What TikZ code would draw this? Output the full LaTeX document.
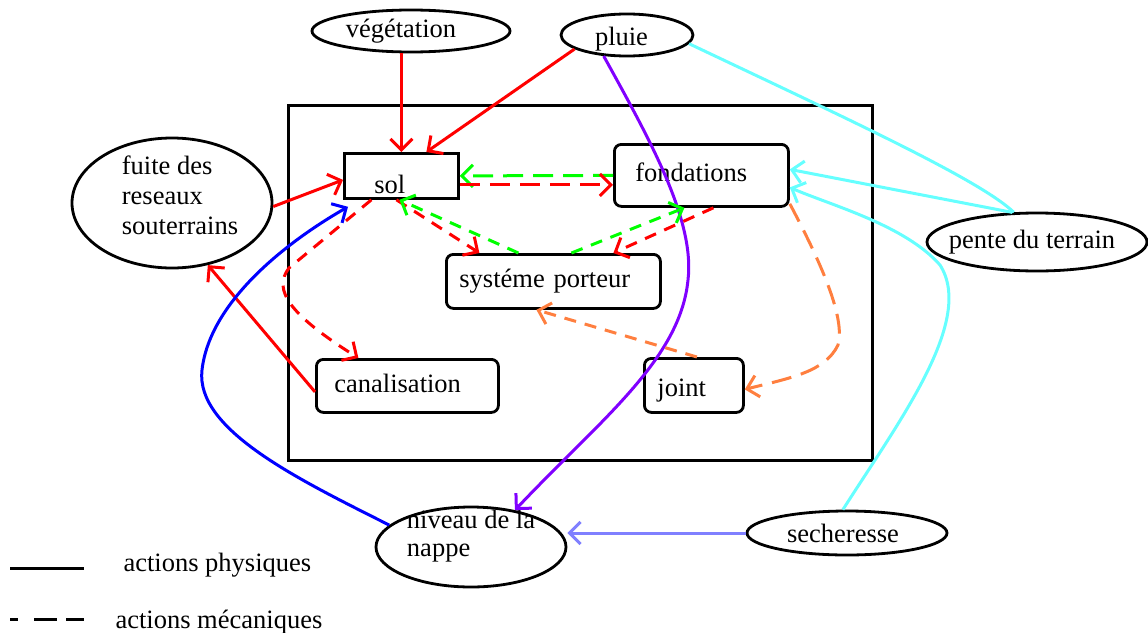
\documentclass[tikz,border=0pt]{standalone}
\usepackage{fontspec}
\setmainfont{Liberation Serif}
\usetikzlibrary{shapes.geometric,arrows.meta}

\definecolor{cRed}{RGB}{255,0,0}
\definecolor{cGreen}{RGB}{0,255,0}
\definecolor{cOrange}{RGB}{255,127,63}
\definecolor{cPurple}{RGB}{128,0,255}
\definecolor{cBlue}{RGB}{0,0,255}
\definecolor{cCyan}{RGB}{102,255,255}
\definecolor{cPeri}{RGB}{128,128,255}

\begin{document}
\begin{tikzpicture}[x=1pt,y=-1pt,
  every node/.style={font=\fontsize{26.5}{30}\selectfont},
  ell/.style={ellipse, draw, line width=2.8pt, inner sep=0pt},
  boxn/.style={draw, line width=2.8pt, rounded corners=7pt, anchor=north west,
               inner ysep=0pt, align=left},
  link/.style={line width=3pt},
  tip/.style={-{Straight Barb[length=11pt,width=22pt]}},
  phys/.style={link, tip},
  mech/.style={link, tip, dash pattern=on 12pt off 9pt},
  mechlong/.style={link, tip, dash pattern=on 20pt off 10pt}]

\useasboundingbox (0,0) rectangle (1148,632);

% frame around the building elements
\node[draw, line width=3pt, anchor=north west, minimum width=584pt,
      minimum height=355pt, inner sep=0pt] (frame) at (287,104) {};

% building elements
\node[boxn, sharp corners, inner xsep=30pt, text width=54pt,
      text height=40pt, text depth=5pt] (sol) at (343,152) {sol};
\node[boxn, inner xsep=21pt, text width=132pt,
      text height=37pt, text depth=25pt] (fond) at (613,143) {fondations};
\node[boxn, inner xsep=13pt, text width=188pt,
      text height=33pt, text depth=21pt] (sys) at (445,253) {systéme porteur};
\node[boxn, inner xsep=18pt, text width=146pt,
      text height=33pt, text depth=20pt] (canal) at (315,358) {canalisation};
\node[boxn, inner xsep=13pt, text width=73pt,
      text height=38pt, text depth=16pt] (joint) at (643,357) {joint};

% external factors
\node[ell, minimum width=198pt, minimum height=42pt] (veg) at (411,31)
  {végétation\hspace*{20pt}};
\node[ell, minimum width=132pt, minimum height=42pt,
      text height=22pt, text depth=2pt] (pluie) at (627,35) {pluie\hspace*{11pt}};
\node[ell, minimum width=200pt, minimum height=130pt, inner ysep=-2pt,
      align=left, text depth=16pt] (fuite) at (172,203)
  {\hspace*{16pt}fuite des\\\hspace*{16pt}reseaux\\\hspace*{16pt}souterrains};
\node[ell, minimum width=220pt, minimum height=58pt, inner xsep=-12pt]
  (pente) at (1037,242) {pente du terrain\hspace*{10pt}};
\node[ell, minimum width=190pt, minimum height=80pt, inner ysep=-10pt,
      align=left, font=\fontsize{26.5}{28}\selectfont, text depth=28pt]
  (niv) at (471,547) {niveau de la\\nappe};
\node[ell, minimum width=200pt, minimum height=44pt] (sech) at (847,533)
  {secheresse\hspace*{8pt}};

% physical actions
\draw[phys, cRed] (sol.north |- veg.south) -- (sol.north);
\draw[phys, cRed] (pluie.195) -- ([xshift=25pt]sol.north);
\draw[phys, cRed] (fuite.-2) -- ([yshift=-4pt]sol.west);
\draw[phys, cRed] ([yshift=-6pt]canal.west) -- (fuite.-60);
\draw[phys, cPurple] (pluie.222) .. controls (650,140) and (695,220) .. (688,280)
  .. controls (680,360) and (600,420) .. (niv.40);
\draw[phys, cBlue] (niv.165) .. controls (300,480) and (195,430) .. (202,370)
  .. controls (210,300) and (290,240) .. ([xshift=5pt,yshift=-7pt]sol.south west);
\draw[phys, cPeri] (sech.west) -- (sech.west -| niv.east);
\draw[phys, cCyan] (sech.100) .. controls (900,420) and (975,320) .. (940,265)
  .. controls (905,225) and (830,205) .. ([yshift=-12pt]fond.east);
\draw[phys, cCyan] (pente.130) -- ([yshift=6pt]fond.east);
\draw[link, cCyan] (pluie.-8) .. controls (850,120) and (980,180) .. (pente.128);

% mechanical actions
\draw[mechlong, cGreen] (fond.west) -- (sol.east);
\draw[mechlong, cRed] ([yshift=-9pt]sol.east) -- ([yshift=-9pt]sol.east -| fond.west);
\draw[mech, cRed] ([xshift=-5pt]sol.south) -- ([xshift=-74pt]sys.north);
\draw[mech, cGreen] ([xshift=-35pt]sys.north) -- ([xshift=-2pt]sol.south);
\draw[mech, cRed] ([xshift=12pt]fond.south) -- ([xshift=60pt]sys.north);
\draw[mech, cGreen] ([xshift=18pt]sys.north) -- ([xshift=-17pt]fond.south);
\draw[mech, cRed] ([xshift=-30pt]sol.south) -- (289,268)
  .. controls (272,290) and (290,315) .. ([xshift=-49pt]canal.north);
\draw[mechlong, cOrange] ([yshift=4pt]fond.south east)
  .. controls (825,270) and (845,320) .. (838,345)
  .. controls (825,372) and (790,378) .. ([yshift=-4pt]joint.east);
\draw[mech, cOrange] ([xshift=3pt]joint.north) -- ([xshift=-17pt]sys.south);

% legend
\draw[link] (10,568) -- (84,568);
\node[anchor=base west] (lgphys) at (120,571) {actions physiques};
\draw[link, dash pattern=on 8pt off 16pt on 23pt off 9pt on 19pt off 30pt]
  (10,619) -- (84,619);
\node[anchor=base west] (lgmech) at (112,628) {actions mécaniques};
\end{tikzpicture}
\end{document}
